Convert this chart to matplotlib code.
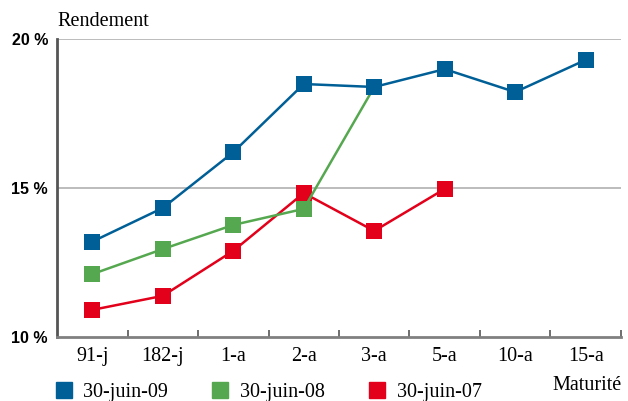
import matplotlib.pyplot as plt
from matplotlib.lines import Line2D

categories = ['91-j', '182-j', '1-a', '2-a', '3-a', '5-a', '10-a', '15-a']
juin09 = [13.2, 14.33, 16.2, 18.49, 18.39, 18.99, 18.22, 19.3]
juin08 = [12.11, 12.95, 13.76, 14.3, 18.39]
juin07 = [10.91, 11.38, 12.89, 14.83, 13.56, 14.97]
series_names = ['30-juin-09', '30-juin-08', '30-juin-07']
colors = ['#005f96', '#55a84f', '#e2001a']

plt.rcParams['font.family'] = ['Liberation Serif', 'DejaVu Serif']

fig = plt.figure(figsize=(6.28, 4.01), dpi=100)
ax = fig.add_axes([0.0908, 0.1596, 0.898, 0.7431])

x = range(len(categories))
# ordre de tracé : 07 puis 08 puis 09 au-dessus
for vals, c in [(juin07, colors[2]), (juin08, colors[1]), (juin09, colors[0])]:
    ax.plot(list(x)[:len(vals)], vals, color=c, lw=1.8, marker='s',
            markersize=12, markeredgewidth=0, zorder=3)

ax.set_xlim(-0.5, len(categories) - 0.5)
ax.set_ylim(10, 20)
ax.set_yticks([10, 15, 20])
ax.set_yticklabels(['10 %', '15 %', '20 %'], fontsize=11.5, fontweight='bold',
                   family=['Liberation Sans', 'DejaVu Sans'])
for yy in [15, 20]:
    ax.axhline(yy, color='#b0b0b0', lw=1.2, zorder=1)

ax.set_xticks([i - 0.5 for i in range(1, len(categories) + 1)])
ax.set_xticklabels([])
ax.set_xticks(list(x), minor=True)
ax.set_xticklabels(categories, minor=True, fontsize=14.5)
ax.tick_params(axis='x', which='major', direction='in', length=5, width=1.2, color='#555555')
ax.tick_params(axis='x', which='minor', length=0, pad=7)
ax.tick_params(axis='y', length=0, pad=6.5)

for s in ['top', 'right']:
    ax.spines[s].set_visible(False)
ax.spines['left'].set_color('#555555')
ax.spines['left'].set_linewidth(2)
ax.spines['bottom'].set_color('#808080')
ax.spines['bottom'].set_linewidth(2)

fig.text(0.091, 0.935, 'Rendement', fontsize=14.5)
fig.text(0.99, 0.028, 'Maturité', fontsize=14.5, ha='right')

handles = [Line2D([], [], ls='none', marker='s', markersize=12.2, color=c) for c in colors]
fig.legend(handles, series_names, loc='center left', bbox_to_anchor=(53.5 / 628, 0.022),
           ncol=3, frameon=False, fontsize=14.5, handletextpad=0.47, columnspacing=2.1,
           handlelength=1.0, borderpad=0, borderaxespad=0)

fig.savefig('out.png', dpi=100)
